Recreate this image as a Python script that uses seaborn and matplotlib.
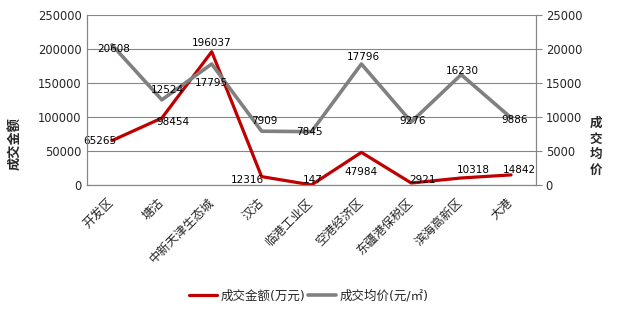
import matplotlib
matplotlib.use("Agg")
import matplotlib.pyplot as plt
import seaborn as sns
import pandas as pd
from matplotlib.lines import Line2D

categories = ["开发区", "塘沽", "中新天津生态城", "汉沽", "临港工业区",
              "空港经济区", "东疆港保税区", "滨海高新区", "大港"]
amount = [65265, 98454, 196037, 12316, 147, 47984, 2921, 10318, 14842]
avg_price = [20608, 12524, 17795, 7909, 7845, 17796, 9276, 16230, 9886]
left_ticks = [0, 50000, 100000, 150000, 200000, 250000]
right_ticks = [0, 5000, 10000, 15000, 20000, 25000]

# label offsets in pixels (dx right, dy down)
amount_off = [(-12, 0), (11, 4), (0, -9), (-14, 3), (1, -5), (0, 20), (11, -3), (12, -8), (8, -5)]
price_off = [(2, 4), (6, -10), (0, 19), (3, -10), (-2, 0), (2, -7), (1, -1), (1, -4), (4, 2)]

sns.set_style("white")
plt.rcParams['font.family'] = ['DejaVu Sans', 'Noto Sans CJK SC']

W, H = 619, 317
fig = plt.figure(figsize=(W / 100, H / 100), dpi=100)
ax = fig.add_axes([87 / W, 1 - 185 / H, (536 - 87) / W, (185 - 15) / H])
ax2 = ax.twinx()

df = pd.DataFrame({"区域": categories, "成交金额": amount, "成交均价": avg_price})
RED = "#C00000"
GRAY = "#808080"

sns.lineplot(data=df, x="区域", y="成交金额", ax=ax, color=RED, linewidth=2.3, sort=False, zorder=3)
sns.lineplot(data=df, x="区域", y="成交均价", ax=ax2, color=GRAY, linewidth=2.6, sort=False, zorder=3)

ax.set_xlim(-0.5, len(categories) - 0.5)
ax.set_ylim(0, 250000)
ax2.set_ylim(0, 25000)
ax.set_yticks(left_ticks)
ax2.set_yticks(right_ticks)
ax.set_yticklabels([str(v) for v in left_ticks], fontsize=8.3)
ax2.set_yticklabels([str(v) for v in right_ticks], fontsize=8.3)
ax.set_xticks(range(len(categories)))
ax.set_xticklabels(categories, rotation=45, ha='right', va='center',
                   rotation_mode='anchor', fontsize=8.8)
ax.tick_params(axis='x', length=0, pad=11)
ax.tick_params(axis='y', length=0, pad=4)
ax2.tick_params(axis='y', length=4, width=0.8, color="#868686", pad=3, direction='out')
ax.set_xlabel("")
ax.set_ylabel("")
ax2.set_ylabel("")

ax.grid(axis='y', color="#868686", linewidth=0.8)
ax.set_axisbelow(True)
for a in (ax, ax2):
    a.spines["top"].set_visible(False)
    for s in ("left", "right", "bottom"):
        a.spines[s].set_color("#868686")
        a.spines[s].set_linewidth(0.8)
ax2.grid(False)

px = 0.72
for i, v in enumerate(amount):
    dx, dy = amount_off[i]
    ax.annotate(str(v), (i, v), xytext=(dx * px, -dy * px), textcoords='offset points',
                ha='center', va='center', fontsize=7.5, color='black', zorder=5)
for i, v in enumerate(avg_price):
    dx, dy = price_off[i]
    ax2.annotate(str(v), (i, v), xytext=(dx * px, -dy * px), textcoords='offset points',
                 ha='center', va='center', fontsize=7.5, color='black', zorder=5)

fig.text(15 / W, 1 - 143 / H, "成交金额", rotation=90, ha='center', va='center',
         fontsize=9.5, fontweight='bold')
fig.text(596 / W, 1 - 147 / H, "成\n交\n均\n价", ha='center', va='center',
         fontsize=9, fontweight='bold', linespacing=1.25)

handles = [Line2D([], [], color=RED, linewidth=2.3),
           Line2D([], [], color=GRAY, linewidth=2.6)]
fig.legend(handles, ["成交金额(万元)", "成交均价(元/㎡)"], loc='center',
           bbox_to_anchor=(309 / W, 1 - 296 / H), ncol=2, frameon=False,
           fontsize=9, handlelength=2.2, columnspacing=0.2, handletextpad=0.35)

fig.savefig("out.png", dpi=100)
